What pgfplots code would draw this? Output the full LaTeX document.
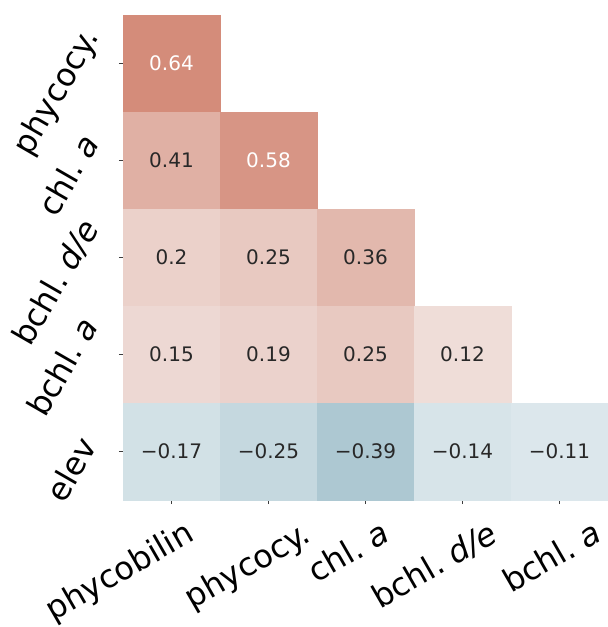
\documentclass[border=0pt]{standalone}
\usepackage{fontspec}
\setmainfont{DejaVu Sans}
\usepackage{pgfplots}
\usepackage{pgfplotstable}
\pgfplotsset{compat=1.18}

\definecolor{annot}{RGB}{40,40,40}
\definecolor{tickgray}{RGB}{60,60,60}

% lower triangle of the correlation matrix: column c, row r, coefficient v
\pgfplotstableread{
c r v
0 0 0.64
0 1 0.41
1 1 0.58
0 2 0.20
1 2 0.25
2 2 0.36
0 3 0.15
1 3 0.19
2 3 0.25
3 3 0.12
0 4 -0.17
1 4 -0.25
2 4 -0.39
3 4 -0.14
4 4 -0.11
}\corrtable

% annotations on the two darkest cells (white text)
\pgfplotstableread{
c r lab
0 0 0.64
1 1 0.58
}\lightlabels

% annotations on the remaining cells (dark text)
\pgfplotstableread{
c r lab
0 1 0.41
0 2 0.2
1 2 0.25
2 2 0.36
0 3 0.15
1 3 0.19
2 3 0.25
3 3 0.12
0 4 −0.17
1 4 −0.25
2 4 −0.39
3 4 −0.14
4 4 −0.11
}\darklabels

\tikzset{varname/.style={inner sep=0pt, font=\fontsize{32}{37}\selectfont, anchor=base east}}

\begin{document}
\begin{tikzpicture}
\begin{axis}[
  scale only axis,
  width=485pt, height=485pt,
  xmin=-0.5, xmax=4.5, ymin=-0.5, ymax=4.5,
  y dir=reverse,
  clip=false,
  axis line style={draw=none},
  xtick={0,...,4}, ytick={0,...,4},
  xticklabels={}, yticklabels={},
  xtick pos=left, ytick pos=left,
  tick align=outside,
  major tick length=4pt,
  tick style={color=tickgray, line width=0.8pt},
  point meta min=-1, point meta max=1,
  colormap={corr}{rgb255(0pt)=(70,133,152) rgb255(100pt)=(238,243,246)
                  rgb255(101pt)=(245,239,237) rgb255(201pt)=(193,84,57)},
  every node near coord/.append style={anchor=center, font=\fontsize{20}{24}\selectfont},
]
% coloured cells
\addplot[
  scatter, only marks,
  mark=square*, mark size=48.5pt,
  mark options={line width=0.2pt},
  scatter/use mapped color={draw=mapped color, fill=mapped color},
  point meta=explicit,
] table[x=c, y=r, meta=v] {\corrtable};
% cell annotations
\addplot[draw=none, mark=none, point meta=explicit symbolic,
  nodes near coords, nodes near coords style={text=white}]
  table[x=c, y=r, meta=lab] {\lightlabels};
\addplot[draw=none, mark=none, point meta=explicit symbolic,
  nodes near coords, nodes near coords style={text=annot}]
  table[x=c, y=r, meta=lab] {\darklabels};
% column names
\node[varname, rotate=30] at (axis cs:0.252,4.908) {phycobilin};
\node[varname, rotate=30] at (axis cs:1.458,4.913) {phycocy.};
\node[varname, rotate=30] at (axis cs:2.273,4.913) {chl.\ \textit{a}};
\node[varname, rotate=30] at (axis cs:3.386,4.913) {bchl.\ \textit{d/e}};
\node[varname, rotate=30] at (axis cs:4.458,4.913) {bchl.\ \textit{a}};
% row names
\node[varname, rotate=60] at (axis cs:-0.737,-0.273) {phycocy.};
\node[varname, rotate=60] at (axis cs:-0.737,0.820) {chl.\ \textit{a}};
\node[varname, rotate=60] at (axis cs:-0.737,1.696) {bchl.\ \textit{d/e}};
\node[varname, rotate=60] at (axis cs:-0.747,2.706) {bchl.\ \textit{a}};
\node[varname, rotate=60] at (axis cs:-0.758,3.943) {elev};
\end{axis}
\pgfresetboundingbox
\path[use as bounding box] ([shift={(-123pt,-127pt)}]current axis.south west)
  rectangle ([shift={(485pt,500pt)}]current axis.south west);
\end{tikzpicture}
\end{document}
